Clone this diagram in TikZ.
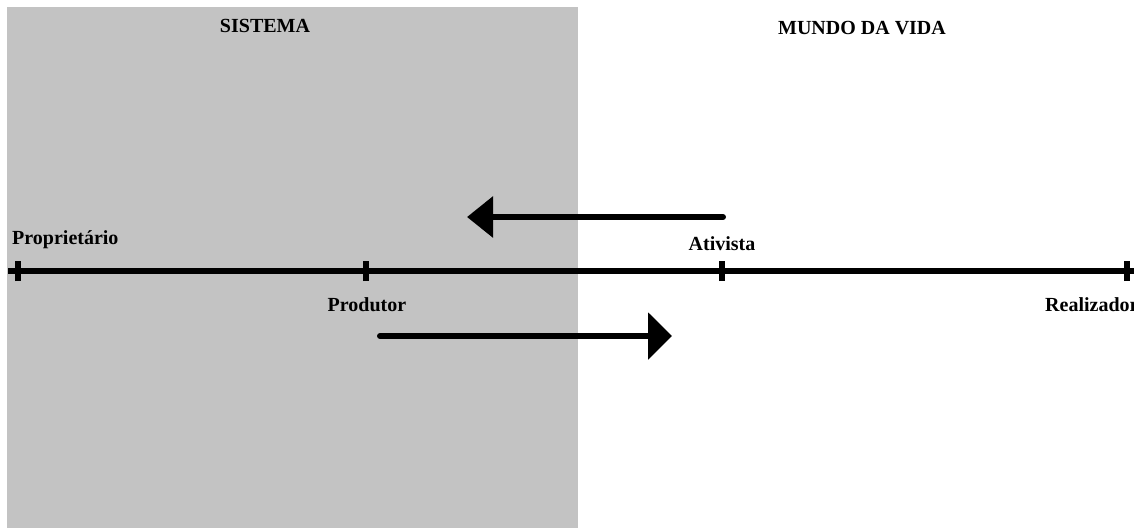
\documentclass[tikz,border=0pt]{standalone}
\usepackage{fontspec}
\setmainfont{Liberation Serif}
\usetikzlibrary{arrows.meta}
\definecolor{sistemagray}{RGB}{195,195,195}
\begin{document}
\begin{tikzpicture}
	[x=1pt,y=-1pt,
	 label/.style={font=\fontsize{20}{24}\selectfont\bfseries,inner sep=0pt},
	 tick/.style={line width=6pt},
	 >={Triangle[length=26pt,width=40pt]}]
    \useasboundingbox (0,0) rectangle (1134,528);
    \clip (0,0) rectangle (1134,528);
    \fill[sistemagray] (7,7) rectangle (578,528);
    \node[label] (S) at (265,26) {SISTEMA};
    \node[label] (M) at (862,28) {MUNDO DA VIDA};
    % eixo
    \coordinate (P0) at (18,271);
    \coordinate (P1) at (366,271);
    \coordinate (P2) at (722,271);
    \coordinate (P3) at (1127,271);
    \draw [line width=6pt] (8,271) -- (P3) -- (1140,271);
    \foreach \p in {P0,P1,P2,P3}
      \draw [tick] ([yshift=-10pt]\p) -- ([yshift=10pt]\p);
    \node[label,anchor=west] (prop) at (12,240) {Proprietário};
    \node[label] (prod) at (367,305) {Produtor};
    \node[label] (ativ) at (722,244) {Ativista};
    \node[label,anchor=west] (real) at (1045,305) {Realizador};
    % setas
    \coordinate (A1) at (723,217);
    \coordinate (A2) at (467,217);
    \coordinate (B1) at (380,336);
    \coordinate (B2) at (672,336);
    \draw [line width=6pt,line cap=round,->] (A1) -- (A2);
    \draw [line width=6pt,line cap=round,->,>={Triangle[length=24pt,width=46pt]}] (B1) -- (B2);
\end{tikzpicture}
\end{document}
